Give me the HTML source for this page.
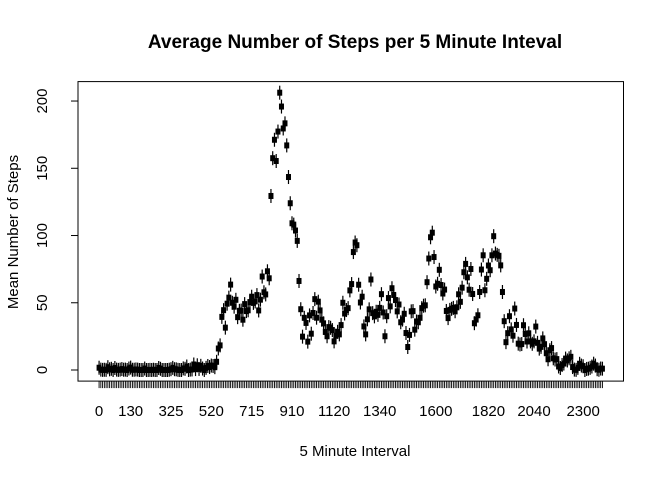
<!DOCTYPE html>
<html><head><meta charset="utf-8"><style>
body{margin:0;background:#fff}
svg text{font-family:"Liberation Sans",Arial,sans-serif;fill:#000}
</style></head><body>
<svg id="c" width="672" height="480">
<text x="355" y="48" text-anchor="middle" font-size="19" font-weight="bold">Average Number of Steps per 5 Minute Inteval</text>
<text x="355" y="456" text-anchor="middle" font-size="15">5 Minute Interval</text>
<text transform="translate(18,232) rotate(-90)" text-anchor="middle" font-size="15">Mean Number of Steps</text>
<rect x="78" y="81.6" width="545.5" height="299.5" fill="none" stroke="#000"/>
<g id="ax"></g><g id="marks"></g>
</svg>
<script>
const steps=[1.7,0.3,0.1,0.2,0.1,2.1,0.5,0.9,0,1.5,0.3,0.1,0.3,0.7,0.2,0.3,0,1.1,1.8,0.2,0.2,0.4,0.3,0,0,0,1.1,0,0,0.1,0,0.2,0,0,1.5,0.9,0,0,0,0,0.2,0.6,1.6,0.6,0.5,0.1,0,0,1.2,0.9,2.6,0,0.3,0.4,4.1,0.7,3.5,0.8,3.1,1.1,0,1.6,3,2.2,3.3,3,2.1,6.1,16,18.3,39.5,44.5,31.5,49.3,53.8,63.5,50,47.1,52.2,39.3,44,44.2,37.4,49,43.8,44.4,50.5,54.5,49.9,51,55.7,44.3,52.3,69.5,57.8,56.2,73.4,68.2,129.4,157.5,171.2,155.4,177.3,206.2,195.9,179.6,183.4,167,143.5,124,109.1,108.1,103.7,96,66.2,45.2,24.8,38.8,35,21.1,40.6,27,42.4,52.7,38.9,50.8,44.3,37.4,34.7,28.3,25.1,31.9,31.4,29.7,21.3,25.5,28.4,26.5,33.4,50,42,44.6,46,59.2,63.9,87.7,94.8,92.8,63.4,50.2,54.5,32.4,26.5,37.7,45.1,67.3,42.3,39.9,43.3,41,46.2,56.4,42.8,25.1,40,53.5,47.3,60.8,55.8,52,43.6,48.7,35.5,37.5,41.8,27.5,17.1,26.1,43.6,43.8,30,36.1,35.5,38.8,46,47.8,48.1,65.3,82.9,98.7,102.1,84,62.1,64.1,74.5,63.2,56.9,59.8,43.9,38.6,44.7,45.5,46.2,43.7,46.6,56.3,50.7,61.2,72.7,78.9,68.9,59.7,75.1,56.5,34.8,37.5,40.7,58,74.7,85.3,59.3,67.8,77.7,74.2,85.3,99.5,86.6,85.6,84.9,77.8,58,36.3,20.7,27.4,40,30.2,25.5,45.7,33.5,19.6,19,19.3,33.3,26.8,21.2,27.3,21.3,19.5,21.3,32.3,20.2,15.9,17.2,23.5,19.2,12.5,8,14.7,16.3,8.7,7.8,8.1,2.6,1.5,3.7,4.8,8.5,7.1,8.7,9.8,2.2,0.3,0.1,1.6,4.6,3.3,2.8,0,0.8,1,1.6,2.6,4.7,3.3,0.6,0.2,1.1];
const yTicks=[0,50,100,150,200];
const xLabels=["0","130","325","520","715","910","1120","1340","1600","1820","2040","2300"];
const xLabelIdx=[1,19,42,65,88,111,135,161,193,223,249,277];
const N=288;
while(steps.length<N)steps.push(1);
steps.length=N;
const NS="http://www.w3.org/2000/svg";
const L=78,W=545.5,T=81.6,H=299.5;
const ymax=Math.max(...steps),ymin=0,yr=ymax-ymin;
const y0=ymin-0.04*yr,y1=ymax+0.04*yr;
const sx=i=>L+(i-(0.5-0.04*N))*W/(N*1.08);
const sy=v=>T+H-(v-y0)/(y1-y0)*H;
function mk(t,a,p){const e=document.createElementNS(NS,t);for(const k in a)e.setAttribute(k,a[k]);p.appendChild(e);return e;}
const ax=document.getElementById('ax'),mg=document.getElementById('marks');
for(const v of yTicks){
 const y=sy(v);
 const t=mk('line',{x1:L,x2:L-7,y1:y,y2:y,stroke:'#000'},ax);
 
 
 const tx=mk('text',{transform:`translate(47,${y}) rotate(-90)`,'text-anchor':'middle','font-size':15},ax);
 tx.textContent=v;
 
 
}
for(let i=1;i<=N;i++){
 const x=sx(i);
 const t=mk('line',{x1:x,x2:x,y1:T+H,y2:T+H+7,stroke:'#000','stroke-width':0.9},ax);
 
 
}
xLabels.forEach((s,k)=>{
 const tx=mk('text',{x:sx(xLabelIdx[k]),y:416,'text-anchor':'middle','font-size':15},ax);
 tx.textContent=s;
 
 
});
steps.forEach((v,k)=>{
 const x=sx(k+1),y=sy(v);
 const g=mk('g',{},mg);
 
 
 mk('line',{x1:x,x2:x,y1:y-7,y2:y+7,stroke:'#000','stroke-width':1.2},g);
 mk('rect',{x:x-2.5,y:y-3,width:5,height:6,fill:'#000'},g);
});
</script>
</body></html>
